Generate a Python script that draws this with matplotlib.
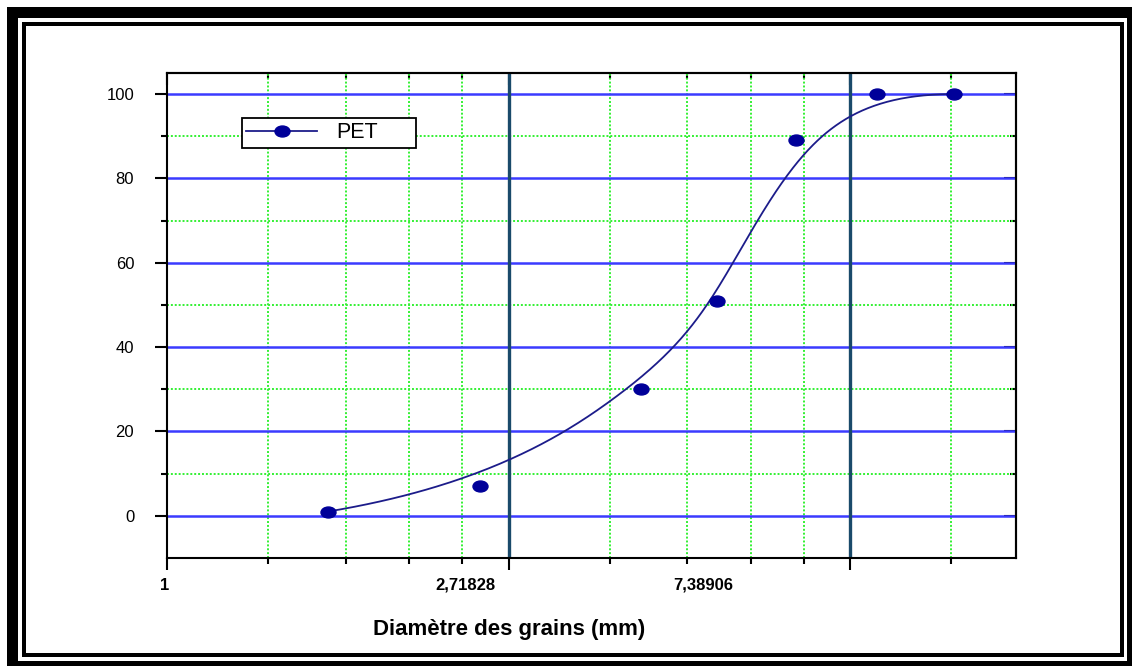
import numpy as np
import matplotlib
matplotlib.use('Agg')
import matplotlib.pyplot as plt
from matplotlib.path import Path
from matplotlib.transforms import Affine2D, ScaledTranslation, blended_transform_factory
from matplotlib.lines import Line2D
from matplotlib.patches import Rectangle
from matplotlib.ticker import FixedLocator, NullFormatter

plt.rcParams['font.family'] = ['Liberation Sans', 'DejaVu Sans']

# data (sieve size in mm, % passing)
diam = [1.6, 2.5, 4.0, 5.0, 6.3, 8.0, 10.0]
passing = [1, 7, 30, 51, 89, 100, 100]
series_name = 'PET'
xtick_labels = ['1', '2,71828', '7,38906']
yticks = [0, 20, 40, 60, 80, 100]
yminor = [10, 30, 50, 70, 90]

W, H = 1132, 666
NAVY = '#000099'
CURVE = '#1c1c8a'


def bspline(cx, cy, k=3, num=400):
    # clamped uniform B-spline with the data points as control points
    cx = np.asarray(cx, float)
    cy = np.asarray(cy, float)
    n = len(cx)
    knots = np.concatenate([np.zeros(k + 1), np.arange(1, n - k), np.full(k + 1, n - k)])
    t = np.linspace(0, n - k, num)
    B = np.zeros((num, len(knots) - 1))
    for i in range(len(knots) - 1):
        B[:, i] = (t >= knots[i]) & (t < knots[i + 1])
    B[-1, :] = 0
    B[-1, n - 1] = 1
    for d in range(1, k + 1):
        Bn = np.zeros((num, len(knots) - 1 - d))
        for i in range(len(knots) - 1 - d):
            a = knots[i + d] - knots[i]
            b = knots[i + d + 1] - knots[i + 1]
            if a > 0:
                Bn[:, i] += (t - knots[i]) / a * B[:, i]
            if b > 0:
                Bn[:, i] += (knots[i + d + 1] - t) / b * B[:, i + 1]
        B = Bn
    return B @ cx, B @ cy


def px(x, y):
    return x / W, 1 - y / H


fig = plt.figure(figsize=(W / 100, H / 100), dpi=100)
fig.patch.set_facecolor('white')

# double black frame around the picture
def rect(x0, y0, x1, y1, color, z):
    fx, fy = px(x0, y1)
    fig.add_artist(Rectangle((fx, fy), (x1 - x0) / W, (y1 - y0) / H,
                             transform=fig.transFigure, facecolor=color,
                             edgecolor='none', zorder=z))

rect(7, 7, 1145, 680, 'black', -10)
rect(18, 18, 1127, 661, 'white', -9)
rect(22, 22, 1124, 657, 'black', -8)
rect(26, 26, 1120, 653, 'white', -7)

ax = fig.add_axes([167 / W, 1 - 558 / H, (1016 - 167) / W, (558 - 73) / H])
ax.set_xscale('log', base=np.e)
ax.set_xlim(1, 12)
ax.set_ylim(-10, 105)

majx = np.e ** np.arange(3)
minx = []
for k in range(3):
    lo, hi = np.e ** k, np.e ** (k + 1)
    minx += [lo + j * (hi - lo) / 5 for j in range(1, 5)]

ax.xaxis.set_major_locator(FixedLocator(majx))
ax.xaxis.set_minor_locator(FixedLocator(minx))
ax.xaxis.set_major_formatter(NullFormatter())
ax.xaxis.set_minor_formatter(NullFormatter())
ax.set_yticks(yticks)
ax.set_yticks(yminor, minor=True)
ax.set_yticklabels([str(v) for v in yticks], fontsize=12)

# x tick labels sit left of their ticks, as in the original
shifts = [-2, -43, -147]
blend = blended_transform_factory(ax.transData, ax.transAxes)
for xv, lab, s in zip(majx, xtick_labels, shifts):
    ax.text(xv, 0, lab, fontsize=12, fontweight='bold', ha='center', va='center',
            transform=blend + ScaledTranslation(s / 100, -0.27, fig.dpi_scale_trans),
            clip_on=False)

ax.tick_params(which='major', direction='out', length=8.6, width=1.5, colors='black')
ax.tick_params(which='minor', direction='out', length=4.5, width=1.5, colors='black')
ax.tick_params(axis='y', which='major', pad=15)

for sp in ax.spines.values():
    sp.set_linewidth(1.5)
    sp.set_zorder(5)

ax.set_axisbelow(True)
ax.grid(which='minor', color='#33f033', ls=(0, (1, 1)), lw=1.4)
ax.grid(axis='y', which='major', color='#3b3bff', lw=1.8)
for xv in majx[1:]:
    ax.axvline(xv, color='#1a4a6a', lw=2.4, zorder=1)

# top and right ticks point inward
top = ax.secondary_xaxis('top')
top.set_xscale('log', base=np.e)
top.xaxis.set_major_locator(FixedLocator(majx))
top.xaxis.set_minor_locator(FixedLocator(minx))
top.tick_params(which='major', direction='in', length=8.6, width=1.5, labeltop=False)
top.tick_params(which='minor', direction='in', length=4.5, width=1.5, labeltop=False)
top.spines['top'].set_linewidth(1.5)
right = ax.secondary_yaxis('right')
right.set_yticks(yticks)
right.set_yticks(yminor, minor=True)
right.tick_params(which='major', direction='in', length=8.6, width=1.5, labelright=False)
right.tick_params(which='minor', direction='in', length=4.5, width=1.5, labelright=False)
right.spines['right'].set_linewidth(1.5)

# curve and points
u, v = bspline(np.log(diam), passing)
ax.plot(np.exp(u), v, color=CURVE, lw=1.3, zorder=3)

ell = Path.unit_circle().transformed(Affine2D().scale(1, 0.73))
ax.plot(diam, passing, ls='none', marker=ell, ms=10.8, color=NAVY, zorder=4)

handle = Line2D([], [], color=CURVE, lw=1.3, marker=ell, ms=10.8,
                markerfacecolor=NAVY, markeredgecolor=NAVY)
x0 = (242 - 167) / 849
y0 = (558 - 147) / 485
leg = ax.legend([handle], [series_name], loc='upper left',
                bbox_to_anchor=(x0, y0, 174 / 849, 29 / 485), mode='expand',
                borderaxespad=0, fontsize=15.5, handlelength=3.3, handletextpad=0.9,
                borderpad=0.2, fancybox=False, framealpha=1)
leg.get_frame().set_edgecolor('black')
leg.get_frame().set_linewidth(1.3)

ax.set_xlabel('Diamètre des grains (mm)', fontsize=16, fontweight='bold', va='center')
ax.xaxis.set_label_coords((509 - 167) / 849, (558 - 630) / 485)

fig.savefig('out.png', dpi=100, facecolor='white')
